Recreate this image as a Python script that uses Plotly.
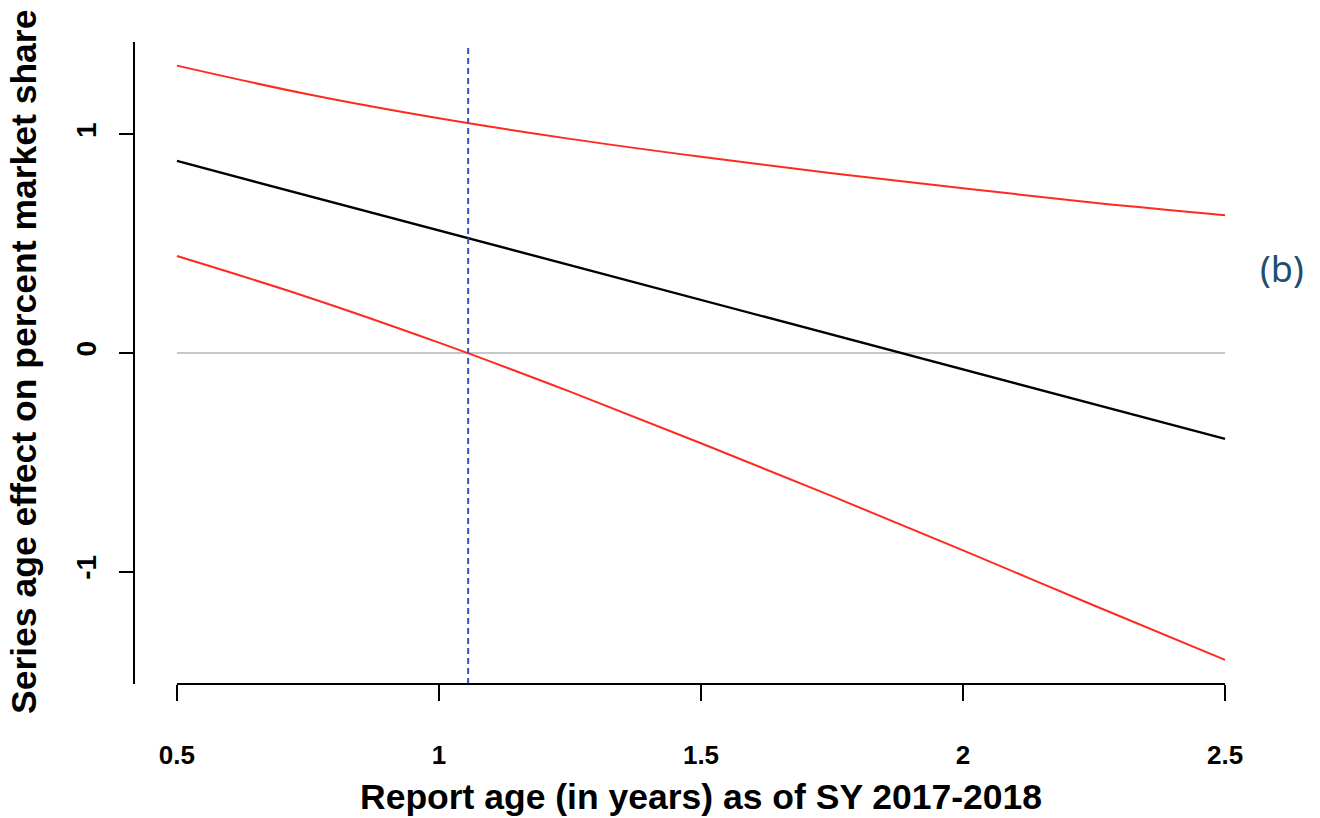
import plotly.graph_objects as go

# Report age grid (years)
report_age = [0.5, 0.75, 1.0, 1.25, 1.5, 1.75, 2.0, 2.25, 2.5]

# Estimated series-age effect and its confidence band
effect = [0.878, 0.719, 0.560, 0.401, 0.242, 0.084, -0.075, -0.234, -0.393]
upper_ci = [1.314, 1.183, 1.073, 0.979, 0.897, 0.822, 0.753, 0.687, 0.630]
lower_ci = [0.443, 0.255, 0.047, -0.177, -0.413, -0.655, -0.903, -1.155, -1.404]

# Report age where the lower bound crosses zero
crossover_age = 1.0557

x_ticks = [0.5, 1, 1.5, 2, 2.5]
x_tick_text = ["0.5", "1", "1.5", "2", "2.5"]
y_ticks = [-1, 0, 1]
y_tick_text = ["-1", "0", "1"]

FONT = "Liberation Sans, Arial, sans-serif"
RED = "#ff2a1f"

fig = go.Figure()

# zero reference line
fig.add_trace(go.Scatter(x=[report_age[0], report_age[-1]], y=[0, 0], mode="lines",
                         line=dict(color="#b4b4b4", width=1.6), hoverinfo="skip"))
fig.add_trace(go.Scatter(x=report_age, y=upper_ci, mode="lines", line_shape="spline",
                         line=dict(color=RED, width=2)))
fig.add_trace(go.Scatter(x=report_age, y=lower_ci, mode="lines", line_shape="spline",
                         line=dict(color=RED, width=2)))
fig.add_trace(go.Scatter(x=report_age, y=effect, mode="lines",
                         line=dict(color="#000000", width=2.4)))

# dashed marker at the crossover age
fig.add_shape(type="line", xref="x", yref="paper", x0=crossover_age, x1=crossover_age,
              y0=0, y1=0.992, line=dict(color="#3a4fc0", width=2, dash="6px,4px"))

# bottom axis line only spans the tick range
fig.add_shape(type="line", xref="x", yref="paper", x0=x_ticks[0], x1=x_ticks[-1],
              y0=0, y1=0, line=dict(color="#000000", width=2))

fig.update_layout(
    width=1320, height=818,
    margin=dict(l=135, r=53, t=42, b=134),
    paper_bgcolor="white", plot_bgcolor="white",
    showlegend=False,
    font=dict(family=FONT, color="#000000"),
    xaxis=dict(range=[0.42, 2.58], showgrid=False, zeroline=False, showline=False,
               tickvals=x_ticks, ticktext=x_tick_text, ticks="outside", ticklen=16,
               tickwidth=2, tickcolor="#000000", ticklabelstandoff=32,
               tickfont=dict(family=FONT, size=26, weight="bold")),
    yaxis=dict(range=[-1.514, 1.422], showgrid=False, zeroline=False, showline=True,
               linecolor="#000000", linewidth=2,
               tickvals=y_ticks, ticktext=y_tick_text, ticks="outside", ticklen=14,
               tickwidth=2, tickcolor="#000000", tickangle=-90, ticklabelstandoff=12,
               tickfont=dict(family=FONT, size=28, weight="bold")),
    annotations=[
        dict(text="<b>Report age (in years) as of SY 2017-2018</b>", xref="paper", yref="paper",
             x=(701 - 135) / 1132, y=-(797 - 684) / 642, xanchor="center", yanchor="middle",
             showarrow=False, font=dict(family=FONT, size=35.5, color="#000000")),
        dict(text="<b>Series age effect on percent market share</b>", xref="paper", yref="paper",
             x=-(135 - 24) / 1132, y=(684 - 362) / 642, xanchor="center", yanchor="middle",
             textangle=-90, showarrow=False, font=dict(family=FONT, size=35.5, color="#000000")),
        dict(text="(b)", xref="paper", yref="paper",
             x=(1282 - 135) / 1132, y=(684 - 268) / 642, xanchor="center", yanchor="middle",
             showarrow=False, font=dict(family="Noto Sans", size=36, color="#1d4f6e")),
    ],
)

fig.write_html("out.html")
